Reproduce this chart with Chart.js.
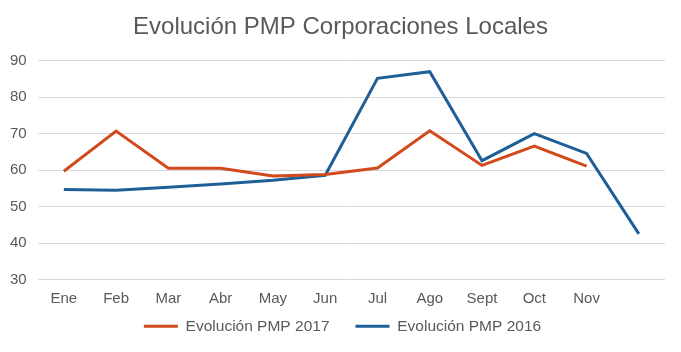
<!DOCTYPE html>
<html>
<head>
<meta charset="utf-8">
<script src="https://cdn.jsdelivr.net/npm/chart.js@4"></script>
<style>
  html, body { margin: 0; padding: 0; background: #fff; }
  #wrap { width: 681px; height: 352px; }
</style>
</head>
<body>
<div id="wrap"><canvas id="pmpChart" width="681" height="352"></canvas></div>
<script>
// Data
const months = ["Ene", "Feb", "Mar", "Abr", "May", "Jun", "Jul", "Ago", "Sept", "Oct", "Nov", ""];
const pmp2017 = [59.7, 70.7, 60.5, 60.5, 58.4, 58.8, 60.6, 70.8, 61.3, 66.6, 61.1, null];
const pmp2016 = [54.7, 54.5, 55.3, 56.2, 57.2, 58.6, 85.2, 87.0, 62.6, 70.0, 64.6, 42.5];

const textColor = "#595959";
const fontFamily = "'Liberation Sans', Arial, sans-serif";

// nudge the legend up and a bit to the right, and the title right, like the original
const boxShift = {
  id: "boxShift",
  afterLayout(chart) {
    const lg = chart.legend;
    lg.top -= 17;
    lg.bottom -= 17;
    lg.left += 10;
    lg.right += 10;
    const tb = chart.titleBlock;
    tb.left += 8;
    tb.right += 8;
  }
};

const ctx = document.getElementById("pmpChart").getContext("2d");
new Chart(ctx, {
  type: "line",
  data: {
    labels: months,
    datasets: [
      {
        label: "Evolución PMP 2017",
        data: pmp2017,
        borderColor: "#d24a1b",
        backgroundColor: "#d24a1b",
        borderWidth: 3,
        pointRadius: 0,
        tension: 0
      },
      {
        label: "Evolución PMP 2016",
        data: pmp2016,
        borderColor: "#1f5f97",
        backgroundColor: "#1f5f97",
        borderWidth: 3,
        pointRadius: 0,
        tension: 0
      }
    ]
  },
  options: {
    responsive: false,
    animation: false,
    layout: { padding: { left: 0, right: 16, top: 5, bottom: -9 } },
    plugins: {
      title: {
        display: true,
        text: "Evolución PMP Corporaciones Locales",
        color: textColor,
        font: { family: fontFamily, size: 24, weight: "normal" },
        padding: { top: 8, bottom: 19 }
      },
      legend: {
        position: "bottom",
        labels: {
          color: textColor,
          font: { family: fontFamily, size: 15.5 },
          boxWidth: 34,
          boxHeight: 0,
          padding: 26
        }
      },
      tooltip: { enabled: false }
    },
    scales: {
      x: {
        offset: true,
        grid: { display: false },
        border: { display: false },
        ticks: { color: textColor, font: { family: fontFamily, size: 15 }, padding: 2 }
      },
      y: {
        min: 30,
        max: 90,
        grid: { color: "#d9d9d9", drawTicks: false },
        border: { display: false },
        ticks: { stepSize: 10, color: textColor, font: { family: fontFamily, size: 15 }, padding: 11 },
        afterFit: (scale) => { scale.width -= 1; }
      }
    }
  },
  plugins: [boxShift]
});
</script>
</body>
</html>
